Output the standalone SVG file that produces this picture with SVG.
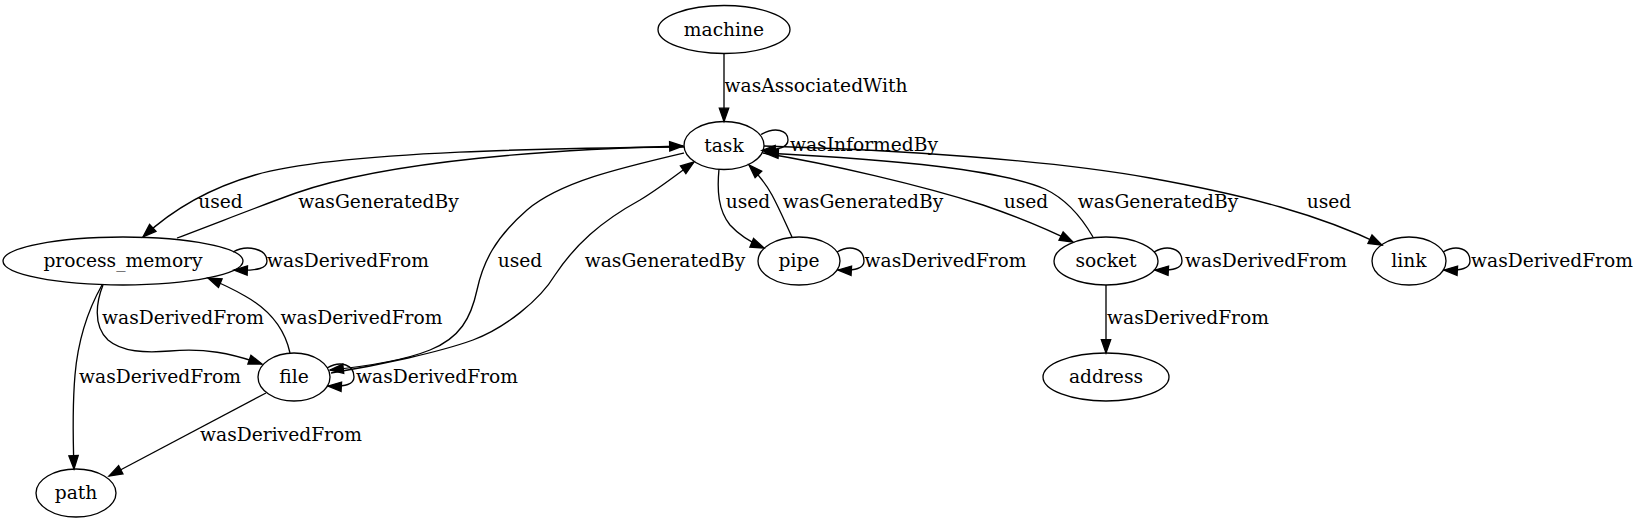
<svg xmlns="http://www.w3.org/2000/svg" width="1640" height="523" viewBox="0 0 1640 523">
<style>
.node ellipse{fill:none;stroke:#000;stroke-width:1.33}
text{font-family:"DejaVu Serif",serif;font-size:18.67px;text-anchor:middle;fill:#000}
.edges path{fill:none;stroke:#000;stroke-width:1.33;marker-end:url(#arr)}
</style>
<defs>
<marker id="arr" markerUnits="userSpaceOnUse" markerWidth="14" markerHeight="10" viewBox="0 0 14 10" refX="13.33" refY="5" orient="auto" style="overflow:visible">
<path d="M0,0.33 L13.33,5 L0,9.67 z" fill="#000" stroke="#000" stroke-width="1.33"/>
</marker>
</defs>
<rect width="1640" height="523" fill="#fff"/>
<g id="edges" class="edges">
<path d="M724,53.5 L724,121.5"/>
<text x="816" y="92">wasAssociatedWith</text>
<path d="M761,134.5 C775,126.5 788,130 788,140 C788,147 780,150 762,150.5"/>
<text x="864" y="151">wasInformedBy</text>
<path d="M684,147 C580,148 340,150 255,175 C210,188 172,210 143,237"/>
<text x="220.5" y="207.5">used</text>
<path d="M177,238 C217,223 257,207 296,193 C390,160 560,149 683,146"/>
<text x="378.5" y="207.5">wasGeneratedBy</text>
<path d="M233,252 C247,244 267,249 267,261 C267,268 259,271 234,270"/>
<text x="348" y="267">wasDerivedFrom</text>
<path d="M684,153 C620,168 560,182 527,210 C495,238 483,262 477,290 C471,318 460,338 430,350 C400,362 360,367 330,370"/>
<text x="520" y="266.5">used</text>
<path d="M331,373 C380,365 440,352 473,340 C505,328 540,300 555,275 C575,245 600,222 640,200 C660,188 680,172 694,162"/>
<text x="665" y="266.5">wasGeneratedBy</text>
<path d="M719,169 C717,190 718,210 730,225 C740,236 750,242 764,248"/>
<text x="748" y="207.5">used</text>
<path d="M792,237 C785,222 779,208 772,195 C766,184 758,174 749,165"/>
<text x="863" y="207.5">wasGeneratedBy</text>
<path d="M837,252 C851,244 864,249 864,261 C864,268 856,271 838,270"/>
<text x="945.5" y="267">wasDerivedFrom</text>
<path d="M763,153 C830,164 920,185 983,205 C1015,216 1045,228 1073,242"/>
<text x="1026" y="207.5">used</text>
<path d="M1093,237 C1082,218 1068,200 1045,189 C1000,170 900,160 765,153"/>
<text x="1158" y="207.5">wasGeneratedBy</text>
<path d="M1154,252 C1168,244 1182,249 1182,261 C1182,268 1174,271 1155,270"/>
<text x="1266" y="267">wasDerivedFrom</text>
<path d="M764,146 C900,150 1050,160 1150,178 C1250,196 1320,215 1382,245"/>
<text x="1329" y="207.5">used</text>
<path d="M1443,252 C1457,244 1470,249 1470,261 C1470,268 1462,271 1444,270"/>
<text x="1552" y="267">wasDerivedFrom</text>
<path d="M1106,285 L1106,353"/>
<text x="1188" y="324">wasDerivedFrom</text>
<path d="M103,285 C97,300 92,325 108,340 C122,352 145,353 170,351 C205,348 230,353 262,364"/>
<text x="183" y="324">wasDerivedFrom</text>
<path d="M290,353 C285,330 270,310 245,296 C233,289 220,283 208,278"/>
<text x="361.5" y="324">wasDerivedFrom</text>
<path d="M102,285 C88,310 78,340 75,375 C72,410 73,440 74,469"/>
<text x="160" y="382.5">wasDerivedFrom</text>
<path d="M327,368 C341,360 354,365 354,377 C354,384 346,387 328,386"/>
<text x="437" y="382.5">wasDerivedFrom</text>
<path d="M266,393 L109,476"/>
<text x="281" y="440.5">wasDerivedFrom</text>
</g>
<g id="machine" class="node"><ellipse cx="724" cy="29.5" rx="66" ry="24"/><text x="724" y="35.5">machine</text></g>
<g id="task" class="node"><ellipse cx="724" cy="145.5" rx="40" ry="24"/><text x="724" y="151.5">task</text></g>
<g id="process_memory" class="node"><ellipse cx="123" cy="261" rx="120" ry="24"/><text x="123" y="267">process_memory</text></g>
<g id="pipe" class="node"><ellipse cx="799" cy="261" rx="41" ry="24"/><text x="799" y="267">pipe</text></g>
<g id="socket" class="node"><ellipse cx="1106" cy="261" rx="52" ry="24"/><text x="1106" y="267">socket</text></g>
<g id="link" class="node"><ellipse cx="1409" cy="261" rx="37" ry="24"/><text x="1409" y="267">link</text></g>
<g id="file" class="node"><ellipse cx="294" cy="377" rx="36" ry="24"/><text x="294" y="383">file</text></g>
<g id="address" class="node"><ellipse cx="1106" cy="377" rx="63" ry="24"/><text x="1106" y="383">address</text></g>
<g id="path" class="node"><ellipse cx="76" cy="493" rx="40" ry="24"/><text x="76" y="499">path</text></g>
</svg>
